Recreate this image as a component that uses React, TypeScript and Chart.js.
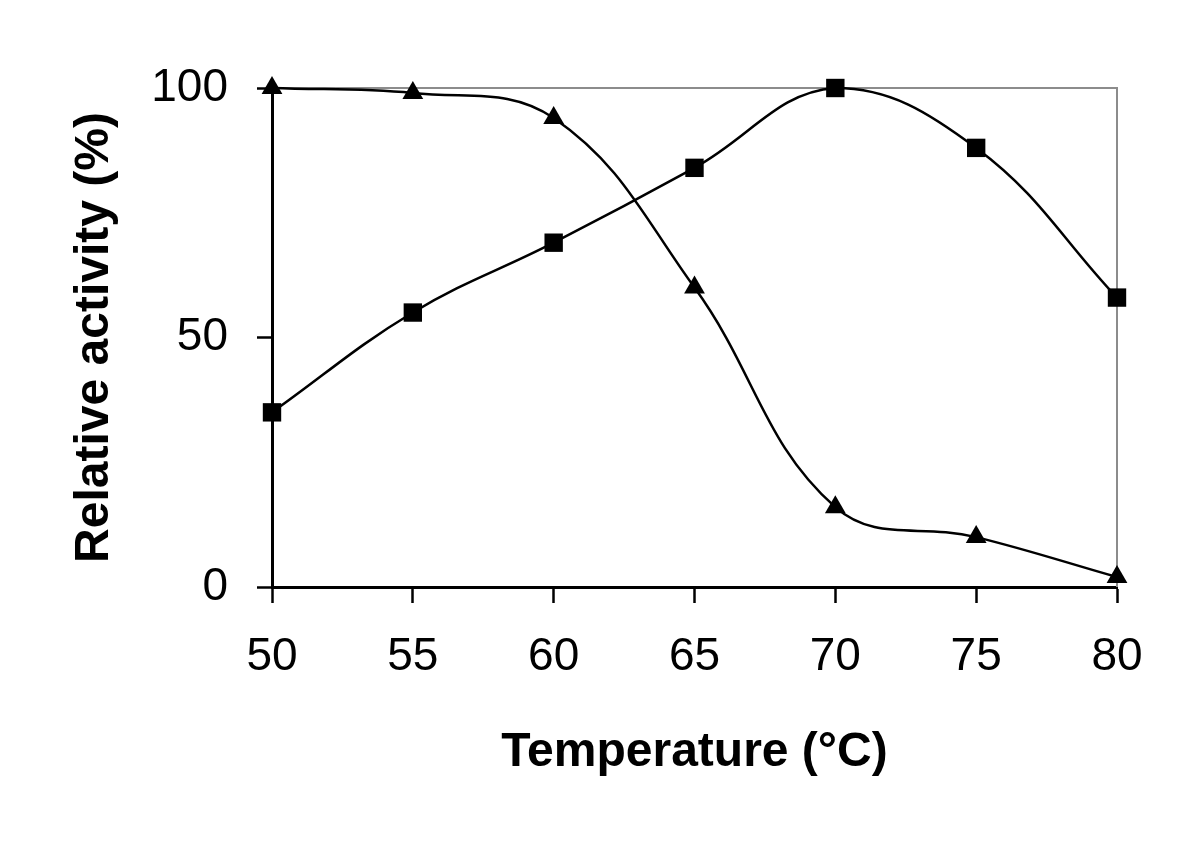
import React, { useEffect, useRef } from "react";
import { Chart, registerables } from "chart.js";

Chart.register(...registerables);

const temperatures = [50, 55, 60, 65, 70, 75, 80];
const squareSeries = [35, 55, 69, 84, 100, 88, 58];
const triangleSeries = [100, 99, 94, 60, 16, 10, 2];
const xTicks = [50, 55, 60, 65, 70, 75, 80];
const yTicks = [0, 50, 100];
const xTitle = "Temperature (°C)";
const yTitle = "Relative activity (%)";

const FONT = "'Liberation Sans', Arial, sans-serif";

const frameBorder = {
  id: "frameBorder",
  beforeDatasetsDraw(chart: any) {
    const { ctx, chartArea } = chart;
    ctx.save();
    ctx.strokeStyle = "#8c8c8c";
    ctx.lineWidth = 2;
    ctx.beginPath();
    ctx.moveTo(chartArea.left, chartArea.top);
    ctx.lineTo(chartArea.right, chartArea.top);
    ctx.lineTo(chartArea.right, chartArea.bottom);
    ctx.stroke();
    ctx.restore();
  },
};

export default function App() {
  const ref = useRef<HTMLCanvasElement | null>(null);

  useEffect(() => {
    document.body.style.margin = "0";
    const canvas = ref.current!;
    const chart = new Chart(canvas, {
      type: "line",
      data: {
        datasets: [
          {
            label: "squares",
            data: temperatures.map((t, i) => ({ x: t, y: squareSeries[i] })),
            borderColor: "#000",
            backgroundColor: "#000",
            borderWidth: 2.5,
            pointStyle: "rect",
            pointRadius: 13,
            pointBorderWidth: 0,
            tension: 0.4,
            clip: false as any,
          },
          {
            label: "triangles",
            data: temperatures.map((t, i) => ({ x: t, y: triangleSeries[i] })),
            borderColor: "#000",
            backgroundColor: "#000",
            borderWidth: 2.5,
            pointStyle: "triangle",
            pointRadius: 12,
            pointBorderWidth: 0,
            tension: 0.4,
            clip: false as any,
          },
        ],
      },
      options: {
        animation: false,
        responsive: false,
        maintainAspectRatio: false,
        layout: { padding: { left: 0, right: 83, top: 88, bottom: 0 } },
        plugins: {
          legend: { display: false },
          tooltip: { enabled: false },
        },
        scales: {
          x: {
            type: "linear",
            min: 50,
            max: 80,
            afterBuildTicks: (axis: any) => {
              axis.ticks = xTicks.map((v) => ({ value: v }));
            },
            afterFit: (axis: any) => {
              axis.height = 261;
            },
            grid: {
              display: true,
              drawOnChartArea: false,
              drawTicks: true,
              tickLength: 16,
              tickWidth: 2.5,
              tickColor: "#000",
            },
            border: { display: true, color: "#000", width: 3 },
            ticks: {
              color: "#000",
              padding: 27,
              font: { family: FONT, size: 46 },
              maxRotation: 0,
            },
            title: {
              display: true,
              text: xTitle,
              color: "#000",
              font: { family: FONT, size: 48, weight: "bold" },
              padding: { top: 0, bottom: 66 },
            },
          },
          y: {
            type: "linear",
            min: 0,
            max: 100,
            afterBuildTicks: (axis: any) => {
              axis.ticks = yTicks.map((v) => ({ value: v }));
            },
            afterFit: (axis: any) => {
              axis.width = 272;
            },
            grid: {
              display: true,
              drawOnChartArea: false,
              drawTicks: true,
              tickLength: 15,
              tickWidth: 2.5,
              tickColor: "#000",
            },
            border: { display: true, color: "#000", width: 3 },
            ticks: {
              color: "#000",
              padding: 29,
              font: { family: FONT, size: 46 },
            },
            title: {
              display: true,
              text: yTitle,
              color: "#000",
              font: { family: FONT, size: 48, weight: "bold" },
              padding: { top: 66, bottom: 0 },
            },
          },
        },
      },
      plugins: [frameBorder],
    });
    return () => chart.destroy();
  }, []);

  return (
    <div style={{ width: 1200, height: 848, background: "#fff" }}>
      <canvas ref={ref} width={1200} height={848} style={{ display: "block", width: 1200, height: 848 }} />
    </div>
  );
}
